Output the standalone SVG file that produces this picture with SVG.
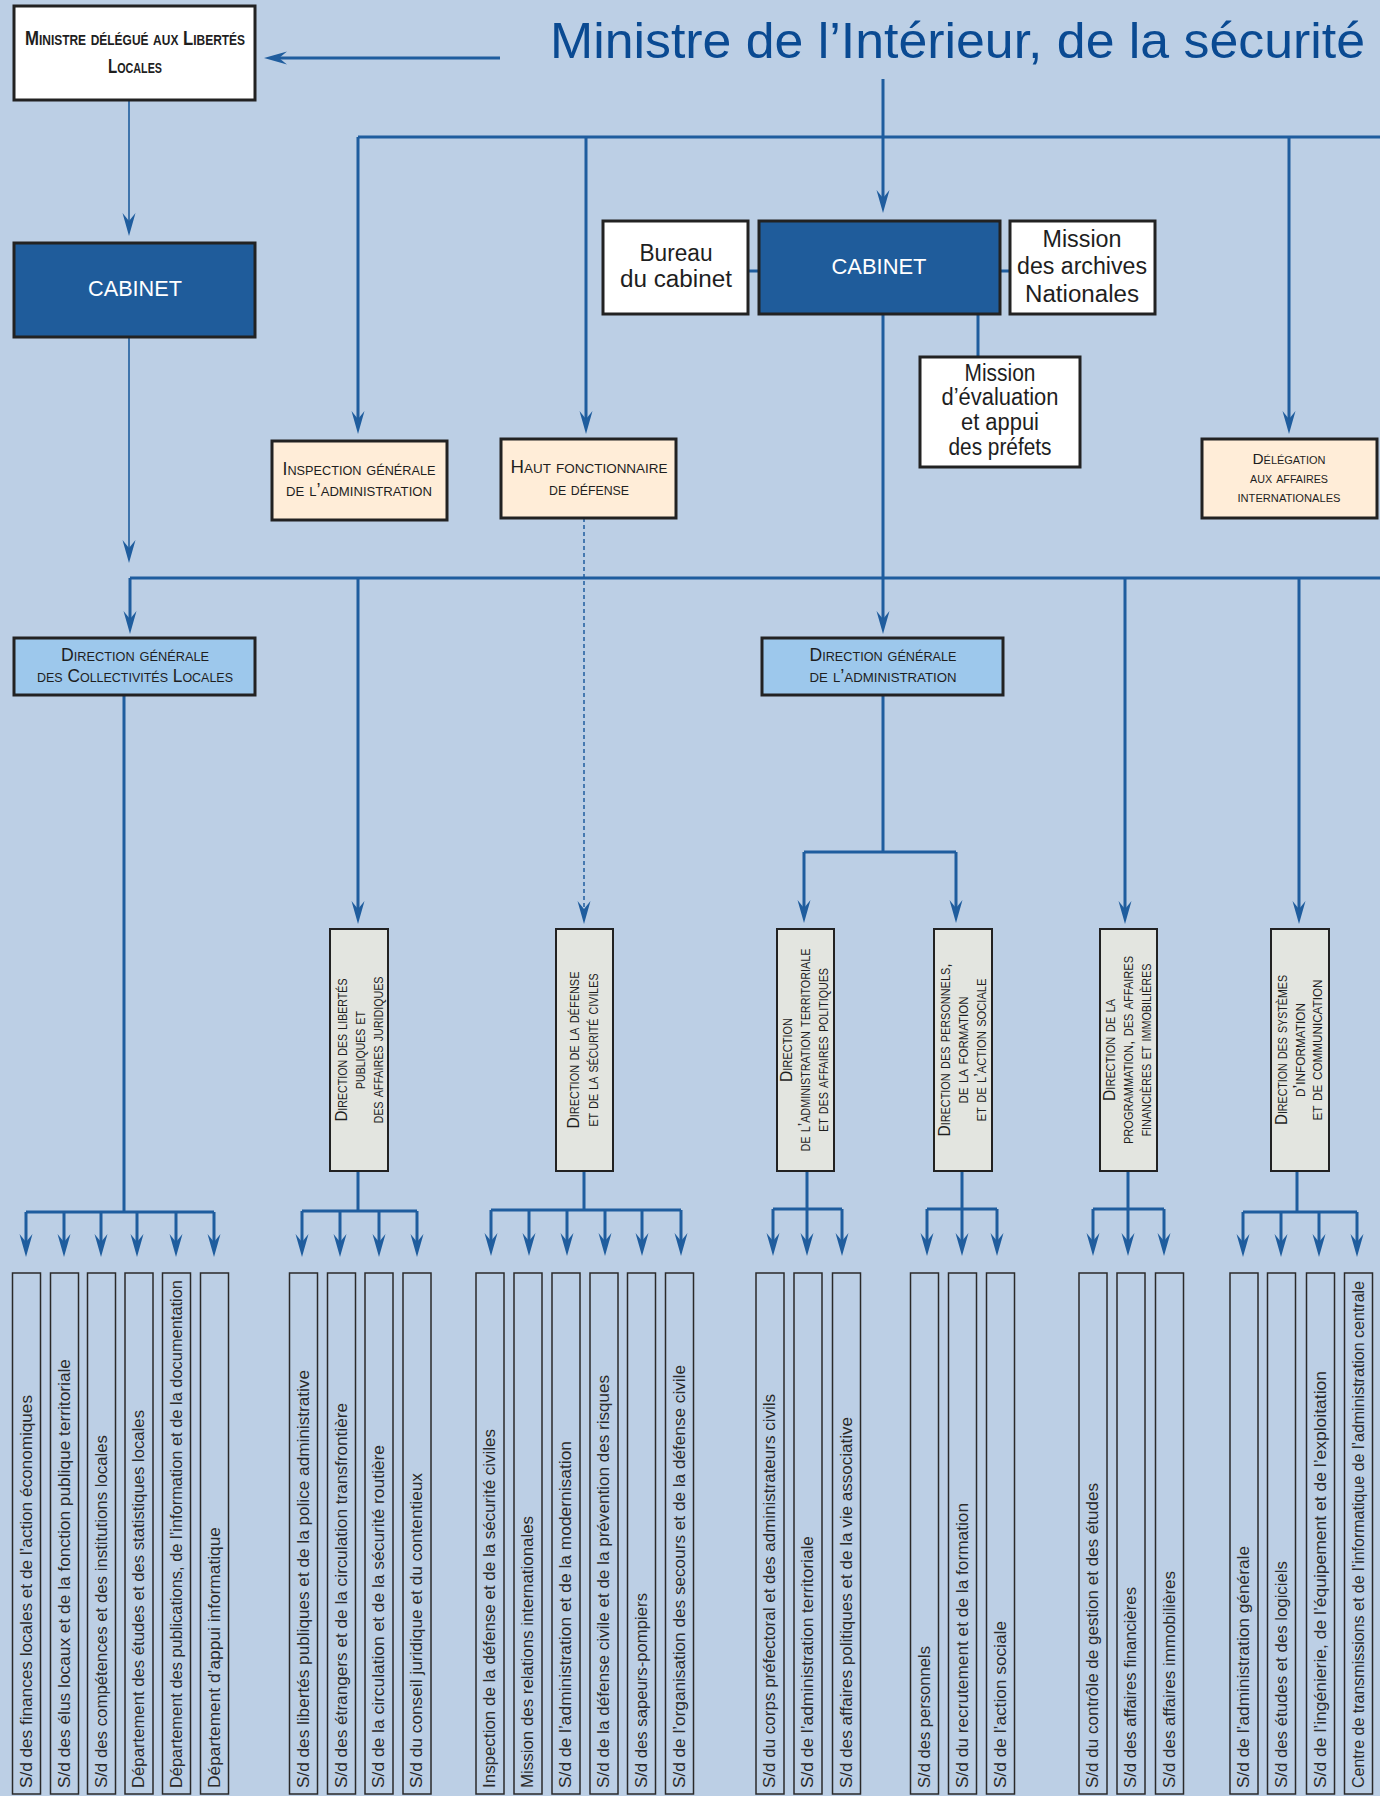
<svg xmlns="http://www.w3.org/2000/svg" width="1380" height="1796" viewBox="0 0 1380 1796">
<defs>
<marker id="ah" markerUnits="userSpaceOnUse" viewBox="-14 -7 25 14" markerWidth="25" markerHeight="14" refX="0" refY="0" orient="auto" overflow="visible">
<path d="M10,0 L-13,-6.5 L-5,0 L-13,6.5 Z" fill="#1f5d9e"/>
</marker>
<style>
.bg{fill:#bccfe5}
.ln{fill:none;stroke:#1f5d9e;stroke-width:3}
.thin{fill:none;stroke:#1f5d9e;stroke-width:1.6}
.dash{fill:none;stroke:#1f5d9e;stroke-width:1.5;stroke-dasharray:4 3}
.arr{marker-end:url(#ah)}
.bx{stroke:#222;stroke-width:3}
.white{fill:#ffffff}
.dark{fill:#1f5c9b}
.cream{fill:#ffedd8}
.dg{fill:#9dc8ec}
.grey{fill:#e3e5e0;stroke:#222;stroke-width:2}
.sub{fill:none;stroke:#2a2a2a;stroke-width:1.5}
.t{font-family:"Liberation Sans",Arial,sans-serif;fill:#1e1e1e}
.sc{font-variant:small-caps}
.mid{text-anchor:middle}
.title{font-family:"Liberation Sans",Arial,sans-serif;font-size:50px;fill:#0a4a92}
.cab{font-size:22px;fill:#ffffff}
.reg{font-size:23px}
.lbl{font-size:18px}
.vl{font-size:17px}
.bt{font-size:17px;fill:#2a2a2a}
</style>
</defs>
<rect class="bg" x="0" y="0" width="1380" height="1796"/>

<text class="title" x="550" y="58" textLength="815" lengthAdjust="spacingAndGlyphs">Ministre de l’Intérieur, de la sécurité</text>

<g id="connectors">
<path class="ln arr" d="M500,58 H274"/>
<path class="thin arr" d="M129,100 V226"/>
<path class="thin arr" d="M129,337 V553"/>
<path class="ln arr" d="M883,79 V203"/>
<path class="ln" d="M358,137 H1380"/>
<path class="ln arr" d="M358,137 V424"/>
<path class="ln arr" d="M586,137 V424"/>
<path class="ln arr" d="M1289,137 V424"/>
<path class="ln" d="M748,271 H759"/>
<path class="ln" d="M1000,271 H1010"/>
<path class="ln arr" d="M883,314 V624"/>
<path class="ln" d="M978,314 V357"/>
<path class="ln" d="M130,578 H1380"/>
<path class="ln arr" d="M130,578 V624"/>
<path class="ln arr" d="M358,578 V914"/>
<path class="dash arr" d="M584,518 V914"/>
<path class="ln arr" d="M1125,578 V914"/>
<path class="ln arr" d="M1299,578 V914"/>
<path class="ln" d="M883,695 V852 M804,852 H956"/>
<path class="ln arr" d="M804,852 V913"/>
<path class="ln arr" d="M956,852 V913"/>
<!-- group 1 -->
<path class="ln" d="M124,695 V1212 M26,1212 H214"/>
<path class="ln arr" d="M26,1212 V1247"/><path class="ln arr" d="M64,1212 V1247"/><path class="ln arr" d="M101,1212 V1247"/><path class="ln arr" d="M137,1212 V1247"/><path class="ln arr" d="M176,1212 V1247"/><path class="ln arr" d="M214,1212 V1247"/>
<!-- group 2 -->
<path class="ln" d="M358,1171 V1211 M302,1211 H417"/>
<path class="ln arr" d="M302,1211 V1247"/><path class="ln arr" d="M340,1211 V1247"/><path class="ln arr" d="M379,1211 V1247"/><path class="ln arr" d="M417,1211 V1247"/>
<!-- group 3 -->
<path class="ln" d="M584,1171 V1210 M491,1210 H681"/>
<path class="ln arr" d="M491,1210 V1246"/><path class="ln arr" d="M529,1210 V1246"/><path class="ln arr" d="M567,1210 V1246"/><path class="ln arr" d="M605,1210 V1246"/><path class="ln arr" d="M642,1210 V1246"/><path class="ln arr" d="M681,1210 V1246"/>
<!-- group 4 -->
<path class="ln" d="M807,1171 V1209 M773,1209 H842"/>
<path class="ln arr" d="M773,1209 V1246"/><path class="ln arr" d="M807,1209 V1246"/><path class="ln arr" d="M842,1209 V1246"/>
<!-- group 5 -->
<path class="ln" d="M962,1171 V1209 M927,1209 H997"/>
<path class="ln arr" d="M927,1209 V1246"/><path class="ln arr" d="M962,1209 V1246"/><path class="ln arr" d="M997,1209 V1246"/>
<!-- group 6 -->
<path class="ln" d="M1128,1171 V1209 M1093,1209 H1164"/>
<path class="ln arr" d="M1093,1209 V1246"/><path class="ln arr" d="M1128,1209 V1246"/><path class="ln arr" d="M1164,1209 V1246"/>
<!-- group 7 -->
<path class="ln" d="M1297,1171 V1212 M1243,1212 H1357"/>
<path class="ln arr" d="M1243,1212 V1247"/><path class="ln arr" d="M1281,1212 V1247"/><path class="ln arr" d="M1319,1212 V1247"/><path class="ln arr" d="M1357,1212 V1247"/>
</g>

<g id="ministre-delegue">
<rect class="bx white" x="14" y="6" width="241" height="94"/>
<text class="t sc mid" x="135" y="45" font-size="21" font-weight="bold" textLength="220" lengthAdjust="spacingAndGlyphs">Ministre délégué aux Libertés</text>
<text class="t sc mid" x="135" y="73" font-size="21" font-weight="bold" textLength="54" lengthAdjust="spacingAndGlyphs">Locales</text>
</g>

<g id="cabinet-delegue">
<rect class="bx dark" x="14" y="243" width="241" height="94"/>
<text class="t cab mid" x="135" y="296" textLength="94" lengthAdjust="spacingAndGlyphs">CABINET</text>
</g>

<g id="bureau-cabinet">
<rect class="bx white" x="603" y="221" width="145" height="93" stroke-width="2.5"/>
<text class="t reg mid" x="676" y="261" textLength="73" lengthAdjust="spacingAndGlyphs">Bureau</text>
<text class="t reg mid" x="676" y="287" textLength="112" lengthAdjust="spacingAndGlyphs">du cabinet</text>
</g>

<g id="cabinet">
<rect class="bx dark" x="759" y="221" width="241" height="93"/>
<text class="t cab mid" x="879" y="274" textLength="95" lengthAdjust="spacingAndGlyphs">CABINET</text>
</g>

<g id="mission-archives">
<rect class="bx white" x="1010" y="221" width="145" height="93" stroke-width="2.5"/>
<text class="t reg mid" x="1082" y="247" textLength="79" lengthAdjust="spacingAndGlyphs">Mission</text>
<text class="t reg mid" x="1082" y="274" textLength="130" lengthAdjust="spacingAndGlyphs">des archives</text>
<text class="t reg mid" x="1082" y="302" textLength="114" lengthAdjust="spacingAndGlyphs">Nationales</text>
</g>

<g id="mission-evaluation">
<rect class="bx white" x="920" y="357" width="160" height="110" stroke-width="2.5"/>
<text class="t reg mid" x="1000" y="381" font-size="22" textLength="71" lengthAdjust="spacingAndGlyphs">Mission</text>
<text class="t reg mid" x="1000" y="405" font-size="22" textLength="117" lengthAdjust="spacingAndGlyphs">d’évaluation</text>
<text class="t reg mid" x="1000" y="430" font-size="22" textLength="78" lengthAdjust="spacingAndGlyphs">et appui</text>
<text class="t reg mid" x="1000" y="455" font-size="22" textLength="103" lengthAdjust="spacingAndGlyphs">des préfets</text>
</g>

<g id="inspection-generale">
<rect class="bx cream" x="272" y="441" width="175" height="79"/>
<text class="t sc lbl mid" x="359" y="475" textLength="153" lengthAdjust="spacingAndGlyphs">Inspection générale</text>
<text class="t sc lbl mid" x="359" y="496" textLength="146" lengthAdjust="spacingAndGlyphs">de l’administration</text>
</g>

<g id="haut-fonctionnaire">
<rect class="bx cream" x="501" y="439" width="175" height="79"/>
<text class="t sc lbl mid" x="589" y="473" textLength="157" lengthAdjust="spacingAndGlyphs">Haut fonctionnaire</text>
<text class="t sc lbl mid" x="589" y="495" textLength="80" lengthAdjust="spacingAndGlyphs">de défense</text>
</g>

<g id="delegation-affaires-internationales">
<rect class="bx cream" x="1202" y="439" width="175" height="79"/>
<text class="t sc mid" x="1289" y="464" font-size="14" textLength="73" lengthAdjust="spacingAndGlyphs">Délégation</text>
<text class="t sc mid" x="1289" y="483" font-size="14" textLength="78" lengthAdjust="spacingAndGlyphs">aux affaires</text>
<text class="t sc mid" x="1289" y="502" font-size="14" textLength="103" lengthAdjust="spacingAndGlyphs">internationales</text>
</g>

<g id="dgcl">
<rect class="bx dg" x="14" y="638" width="241" height="57"/>
<text class="t sc lbl mid" x="135" y="661" textLength="148" lengthAdjust="spacingAndGlyphs">Direction générale</text>
<text class="t sc lbl mid" x="135" y="682" textLength="196" lengthAdjust="spacingAndGlyphs">des Collectivités Locales</text>
</g>

<g id="dga">
<rect class="bx dg" x="762" y="638" width="241" height="57"/>
<text class="t sc lbl mid" x="883" y="661" textLength="147" lengthAdjust="spacingAndGlyphs">Direction générale</text>
<text class="t sc lbl mid" x="883" y="682" textLength="147" lengthAdjust="spacingAndGlyphs">de l’administration</text>
</g>

<g id="dlpaj">
<rect class="grey" x="330" y="929" width="58" height="242"/>
<text class="t sc vl mid" transform="translate(347,1050) rotate(-90)" textLength="143" lengthAdjust="spacingAndGlyphs">Direction des libertés</text>
<text class="t sc vl mid" transform="translate(365,1050) rotate(-90)" textLength="78" lengthAdjust="spacingAndGlyphs">publiques et</text>
<text class="t sc vl mid" transform="translate(383,1050) rotate(-90)" textLength="147" lengthAdjust="spacingAndGlyphs">des affaires juridiques</text>
</g>

<g id="ddsc">
<rect class="grey" x="556" y="929" width="57" height="242"/>
<text class="t sc vl mid" transform="translate(579,1050) rotate(-90)" textLength="157" lengthAdjust="spacingAndGlyphs">Direction de la défense</text>
<text class="t sc vl mid" transform="translate(598,1050) rotate(-90)" textLength="153" lengthAdjust="spacingAndGlyphs">et de la sécurité civiles</text>
</g>

<g id="datap">
<rect class="grey" x="777" y="929" width="57" height="242"/>
<text class="t sc vl mid" transform="translate(792,1050) rotate(-90)" textLength="64" lengthAdjust="spacingAndGlyphs">Direction</text>
<text class="t sc vl mid" transform="translate(810,1050) rotate(-90)" textLength="203" lengthAdjust="spacingAndGlyphs">de l’administration territoriale</text>
<text class="t sc vl mid" transform="translate(828,1050) rotate(-90)" textLength="164" lengthAdjust="spacingAndGlyphs">et des affaires politiques</text>
</g>

<g id="dpfas">
<rect class="grey" x="934" y="929" width="58" height="242"/>
<text class="t sc vl mid" transform="translate(950,1050) rotate(-90)" textLength="173" lengthAdjust="spacingAndGlyphs">Direction des personnels,</text>
<text class="t sc vl mid" transform="translate(968,1050) rotate(-90)" textLength="107" lengthAdjust="spacingAndGlyphs">de la formation</text>
<text class="t sc vl mid" transform="translate(986,1050) rotate(-90)" textLength="143" lengthAdjust="spacingAndGlyphs">et de l’action sociale</text>
</g>

<g id="dpafi">
<rect class="grey" x="1100" y="929" width="57" height="242"/>
<text class="t sc vl mid" transform="translate(1115,1050) rotate(-90)" textLength="102" lengthAdjust="spacingAndGlyphs">Direction de la</text>
<text class="t sc vl mid" transform="translate(1133,1050) rotate(-90)" textLength="188" lengthAdjust="spacingAndGlyphs">programmation, des affaires</text>
<text class="t sc vl mid" transform="translate(1151,1050) rotate(-90)" textLength="173" lengthAdjust="spacingAndGlyphs">financières et immobilières</text>
</g>

<g id="dsic">
<rect class="grey" x="1271" y="929" width="58" height="242"/>
<text class="t sc vl mid" transform="translate(1287,1050) rotate(-90)" textLength="150" lengthAdjust="spacingAndGlyphs">Direction des systèmes</text>
<text class="t sc vl mid" transform="translate(1305,1050) rotate(-90)" textLength="94" lengthAdjust="spacingAndGlyphs">d’information</text>
<text class="t sc vl mid" transform="translate(1322,1050) rotate(-90)" textLength="141" lengthAdjust="spacingAndGlyphs">et de communication</text>
</g>

<!-- sub-directions -->
<g id="sd-finances"><rect class="sub" x="12.5" y="1273" width="28" height="521"/><text class="t bt" transform="translate(31.5,1788) rotate(-90)" textLength="393" lengthAdjust="spacingAndGlyphs">S/d des finances locales et de l’action économiques</text></g>
<g id="sd-elus"><rect class="sub" x="50.5" y="1273" width="28" height="521"/><text class="t bt" transform="translate(69.5,1788) rotate(-90)" textLength="429" lengthAdjust="spacingAndGlyphs">S/d des élus locaux et de la fonction publique territoriale</text></g>
<g id="sd-competences"><rect class="sub" x="87.5" y="1273" width="28" height="521"/><text class="t bt" transform="translate(106.5,1788) rotate(-90)" textLength="353" lengthAdjust="spacingAndGlyphs">S/d des compétences et des institutions locales</text></g>
<g id="dep-etudes"><rect class="sub" x="125" y="1273" width="28" height="521"/><text class="t bt" transform="translate(144,1788) rotate(-90)" textLength="378" lengthAdjust="spacingAndGlyphs">Département des études et des statistiques locales</text></g>
<g id="dep-publications"><rect class="sub" x="162.5" y="1273" width="28" height="521"/><text class="t bt" transform="translate(181.5,1788) rotate(-90)" textLength="508" lengthAdjust="spacingAndGlyphs">Département des publications, de l’information et de la documentation</text></g>
<g id="dep-appui"><rect class="sub" x="200.5" y="1273" width="28" height="521"/><text class="t bt" transform="translate(219.5,1788) rotate(-90)" textLength="261" lengthAdjust="spacingAndGlyphs">Département d’appui informatique</text></g>

<g id="sd-libertes"><rect class="sub" x="289.5" y="1273" width="28" height="521"/><text class="t bt" transform="translate(308.5,1788) rotate(-90)" textLength="418" lengthAdjust="spacingAndGlyphs">S/d des libertés publiques et de la police administrative</text></g>
<g id="sd-etrangers"><rect class="sub" x="327.5" y="1273" width="28" height="521"/><text class="t bt" transform="translate(346.5,1788) rotate(-90)" textLength="385" lengthAdjust="spacingAndGlyphs">S/d des étrangers et de la circulation transfrontière</text></g>
<g id="sd-circulation"><rect class="sub" x="365" y="1273" width="28" height="521"/><text class="t bt" transform="translate(384,1788) rotate(-90)" textLength="343" lengthAdjust="spacingAndGlyphs">S/d de la circulation et de la sécurité routière</text></g>
<g id="sd-conseil"><rect class="sub" x="403" y="1273" width="28" height="521"/><text class="t bt" transform="translate(422,1788) rotate(-90)" textLength="315" lengthAdjust="spacingAndGlyphs">S/d du conseil juridique et du contentieux</text></g>

<g id="inspection-defense"><rect class="sub" x="476" y="1273" width="28" height="521"/><text class="t bt" transform="translate(495,1788) rotate(-90)" textLength="359" lengthAdjust="spacingAndGlyphs">Inspection de la défense et de la sécurité civiles</text></g>
<g id="mission-relations"><rect class="sub" x="514" y="1273" width="28" height="521"/><text class="t bt" transform="translate(533,1788) rotate(-90)" textLength="272" lengthAdjust="spacingAndGlyphs">Mission des relations internationales</text></g>
<g id="sd-administration-modernisation"><rect class="sub" x="552" y="1273" width="28" height="521"/><text class="t bt" transform="translate(571,1788) rotate(-90)" textLength="347" lengthAdjust="spacingAndGlyphs">S/d de l’administration et de la modernisation</text></g>
<g id="sd-defense-civile"><rect class="sub" x="590" y="1273" width="28" height="521"/><text class="t bt" transform="translate(609,1788) rotate(-90)" textLength="413" lengthAdjust="spacingAndGlyphs">S/d de la défense civile et de la prévention des risques</text></g>
<g id="sd-sapeurs"><rect class="sub" x="627.5" y="1273" width="28" height="521"/><text class="t bt" transform="translate(646.5,1788) rotate(-90)" textLength="195" lengthAdjust="spacingAndGlyphs">S/d des sapeurs-pompiers</text></g>
<g id="sd-secours"><rect class="sub" x="665.5" y="1273" width="28" height="521"/><text class="t bt" transform="translate(684.5,1788) rotate(-90)" textLength="423" lengthAdjust="spacingAndGlyphs">S/d de l’organisation des secours et de la défense civile</text></g>

<g id="sd-corps-prefectoral"><rect class="sub" x="756" y="1273" width="28" height="521"/><text class="t bt" transform="translate(775,1788) rotate(-90)" textLength="394" lengthAdjust="spacingAndGlyphs">S/d du corps préfectoral et des administrateurs civils</text></g>
<g id="sd-admin-territoriale"><rect class="sub" x="794" y="1273" width="28" height="521"/><text class="t bt" transform="translate(813,1788) rotate(-90)" textLength="252" lengthAdjust="spacingAndGlyphs">S/d de l’administration territoriale</text></g>
<g id="sd-affaires-politiques"><rect class="sub" x="832.5" y="1273" width="28" height="521"/><text class="t bt" transform="translate(851.5,1788) rotate(-90)" textLength="371" lengthAdjust="spacingAndGlyphs">S/d des affaires politiques et de la vie associative</text></g>

<g id="sd-personnels"><rect class="sub" x="910.5" y="1273" width="28" height="521"/><text class="t bt" transform="translate(929.5,1788) rotate(-90)" textLength="142" lengthAdjust="spacingAndGlyphs">S/d des personnels</text></g>
<g id="sd-recrutement"><rect class="sub" x="948.5" y="1273" width="28" height="521"/><text class="t bt" transform="translate(967.5,1788) rotate(-90)" textLength="285" lengthAdjust="spacingAndGlyphs">S/d du recrutement et de la formation</text></g>
<g id="sd-action-sociale"><rect class="sub" x="986.5" y="1273" width="28" height="521"/><text class="t bt" transform="translate(1005.5,1788) rotate(-90)" textLength="167" lengthAdjust="spacingAndGlyphs">S/d de l’action sociale</text></g>

<g id="sd-controle-gestion"><rect class="sub" x="1079" y="1273" width="28" height="521"/><text class="t bt" transform="translate(1098,1788) rotate(-90)" textLength="305" lengthAdjust="spacingAndGlyphs">S/d du contrôle de gestion et des études</text></g>
<g id="sd-affaires-financieres"><rect class="sub" x="1117" y="1273" width="28" height="521"/><text class="t bt" transform="translate(1136,1788) rotate(-90)" textLength="201" lengthAdjust="spacingAndGlyphs">S/d des affaires financières</text></g>
<g id="sd-affaires-immobilieres"><rect class="sub" x="1155.5" y="1273" width="28" height="521"/><text class="t bt" transform="translate(1174.5,1788) rotate(-90)" textLength="217" lengthAdjust="spacingAndGlyphs">S/d des affaires immobilières</text></g>

<g id="sd-admin-generale"><rect class="sub" x="1230" y="1273" width="28" height="521"/><text class="t bt" transform="translate(1249,1788) rotate(-90)" textLength="242" lengthAdjust="spacingAndGlyphs">S/d de l’administration générale</text></g>
<g id="sd-etudes-logiciels"><rect class="sub" x="1267.5" y="1273" width="28" height="521"/><text class="t bt" transform="translate(1286.5,1788) rotate(-90)" textLength="227" lengthAdjust="spacingAndGlyphs">S/d des études et des logiciels</text></g>
<g id="sd-ingenierie"><rect class="sub" x="1306.5" y="1273" width="28" height="521"/><text class="t bt" transform="translate(1325.5,1788) rotate(-90)" textLength="417" lengthAdjust="spacingAndGlyphs">S/d de l’ingénierie, de l’équipement et de l’exploitation</text></g>
<g id="centre-transmissions"><rect class="sub" x="1344.5" y="1273" width="28" height="521"/><text class="t bt" transform="translate(1363.5,1788) rotate(-90)" textLength="507" lengthAdjust="spacingAndGlyphs">Centre de transmissions et de l’informatique de l’administration centrale</text></g>
</svg>
